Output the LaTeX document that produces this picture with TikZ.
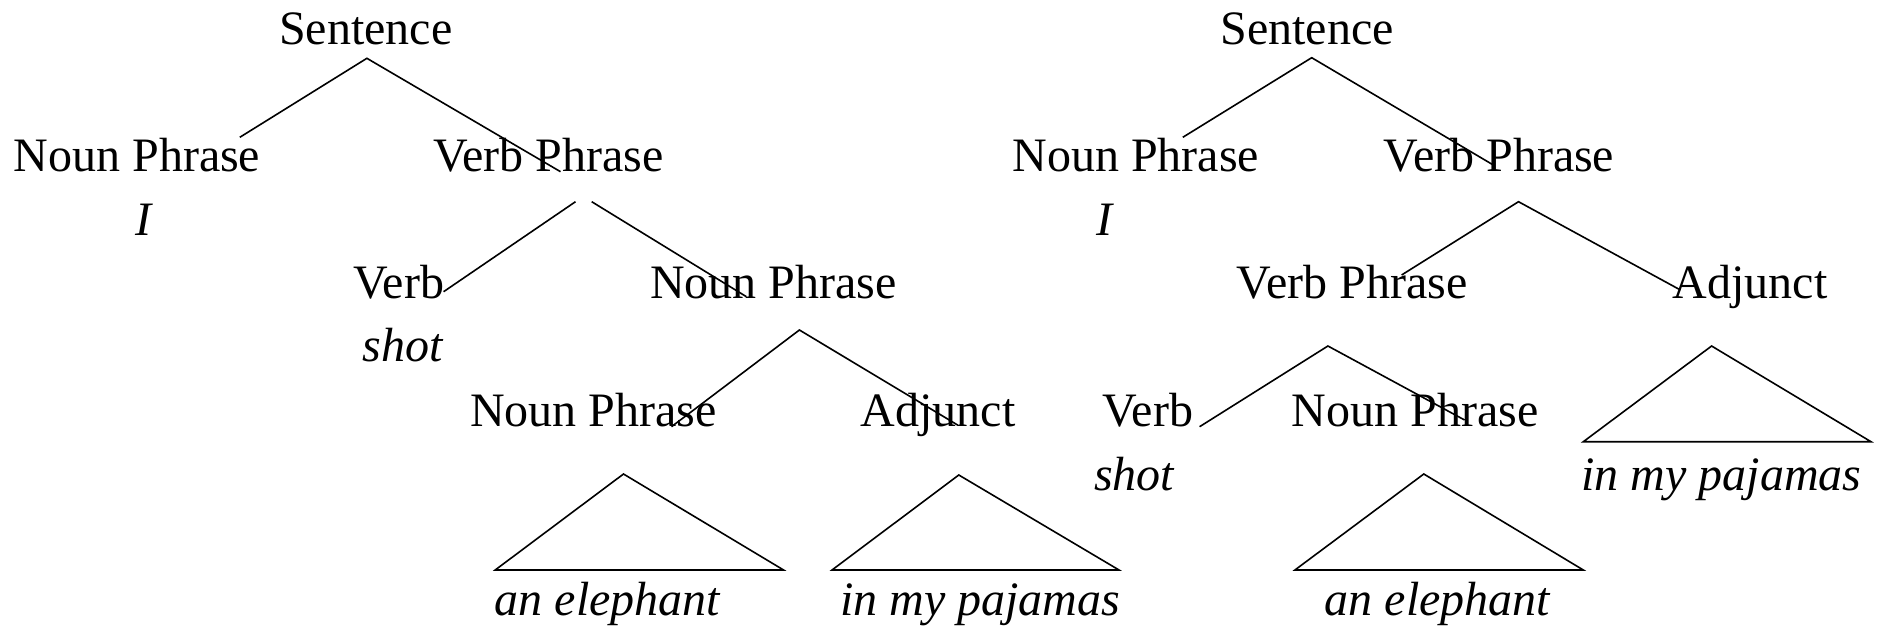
\documentclass[tikz,border=0pt]{standalone}
\usepackage{fontspec}
\setmainfont{Liberation Serif}
\tikzset{
  lbl/.style={anchor=base, inner sep=0pt, font=\fontsize{48}{56}\selectfont},
  word/.style={lbl, font=\fontsize{48}{56}\selectfont\itshape},
  branch/.style={draw=black, line width=1.6pt},
}
\begin{document}
\begin{tikzpicture}[x=1pt,y=-1pt]
\useasboundingbox (0,0) rectangle (1877,626);

% ---------- left tree: NP attachment ----------
\node[lbl]  (sentL) at (365.7,45)   {Sentence};
\node[lbl]  (npL)   at (137,171.7)  {Noun Phrase};
\node[lbl]  (vpL)   at (548.3,171.7){Verb Phrase};
\node[word] (iL)    at (143,235)    {I};
\node[lbl]  (verbL) at (398.7,298.3){Verb};
\node[lbl]  (npbL)  at (773.4,298.3){Noun Phrase};
\node[word] (shotL) at (402.6,361.7){shot};
\node[lbl]  (npcL)  at (593.5,426.7){Noun Phrase};
\node[lbl]  (adjL)  at (938,426.7)  {Adjunct};
\node[word] (eleL)  at (607.6,615)  {an elephant};
\node[word] (pajL)  at (980,615)    {in my pajamas};

\coordinate (sL)   at (366.9,58.3);
\coordinate (sLa)  at (239.8,137.3);
\coordinate (sLb)  at (560.5,171.7);
\coordinate (vLa0) at (575.5,201.7);
\coordinate (vLa)  at (443.6,291.7);
\coordinate (vLb0) at (591.7,201.7);
\coordinate (vLb)  at (746.4,296.7);
\coordinate (nL)   at (799.4,330);
\coordinate (nLa)  at (671.5,426.7);
\coordinate (nLb)  at (957.6,425);
\coordinate (t1a)  at (623.5,474);
\coordinate (t1l)  at (495.2,570);
\coordinate (t1r)  at (783.6,570);
\coordinate (t2a)  at (958.8,475);
\coordinate (t2l)  at (832,570);
\coordinate (t2r)  at (1119,570);

\draw[branch] (sLa) -- (sL) -- (sLb);
\draw[branch] (vLa0) -- (vLa);
\draw[branch] (vLb0) -- (vLb);
\draw[branch] (nLa) -- (nL) -- (nLb);
\draw[branch] (t1a) -- (t1l) -- (t1r) -- cycle;
\draw[branch] (t2a) -- (t2l) -- (t2r) -- cycle;

% ---------- right tree: VP attachment ----------
\node[lbl]  (sentR) at (1307.2,45)   {Sentence};
\node[lbl]  (npR)   at (1135.7,171.7){Noun Phrase};
\node[lbl]  (vpR)   at (1499,171.7)  {Verb Phrase};
\node[word] (iR)    at (1104,235)    {I};
\node[lbl]  (vpbR)  at (1352.2,298.3){Verb Phrase};
\node[lbl]  (adjR)  at (1750,298.3)  {Adjunct};
\node[lbl]  (verbR) at (1147.8,426.7){Verb};
\node[lbl]  (npbR)  at (1415,426.7)  {Noun Phrase};
\node[word] (shotR) at (1134,490)    {shot};
\node[word] (pajR)  at (1721.6,490)  {in my pajamas};
\node[word] (eleR)  at (1437.6,615)  {an elephant};

\coordinate (sR)   at (1311.7,57.7);
\coordinate (sRa)  at (1182.8,137.3);
\coordinate (sRb)  at (1493.3,165);
\coordinate (vR)   at (1518.5,201.7);
\coordinate (vRa)  at (1401.6,275);
\coordinate (vRb)  at (1680.4,290);
\coordinate (wR)   at (1327.9,346);
\coordinate (wRa)  at (1199.6,426.7);
\coordinate (wRb)  at (1464.6,420);
\coordinate (t3a)  at (1711.6,346);
\coordinate (t3l)  at (1583.3,441.7);
\coordinate (t3r)  at (1871,441.7);
\coordinate (t4a)  at (1423.8,474);
\coordinate (t4l)  at (1294.9,570);
\coordinate (t4r)  at (1583.3,570);

\draw[branch] (sRa) -- (sR) -- (sRb);
\draw[branch] (vRa) -- (vR) -- (vRb);
\draw[branch] (wRa) -- (wR) -- (wRb);
\draw[branch] (t3a) -- (t3l) -- (t3r) -- cycle;
\draw[branch] (t4a) -- (t4l) -- (t4r) -- cycle;
\end{tikzpicture}
\end{document}
